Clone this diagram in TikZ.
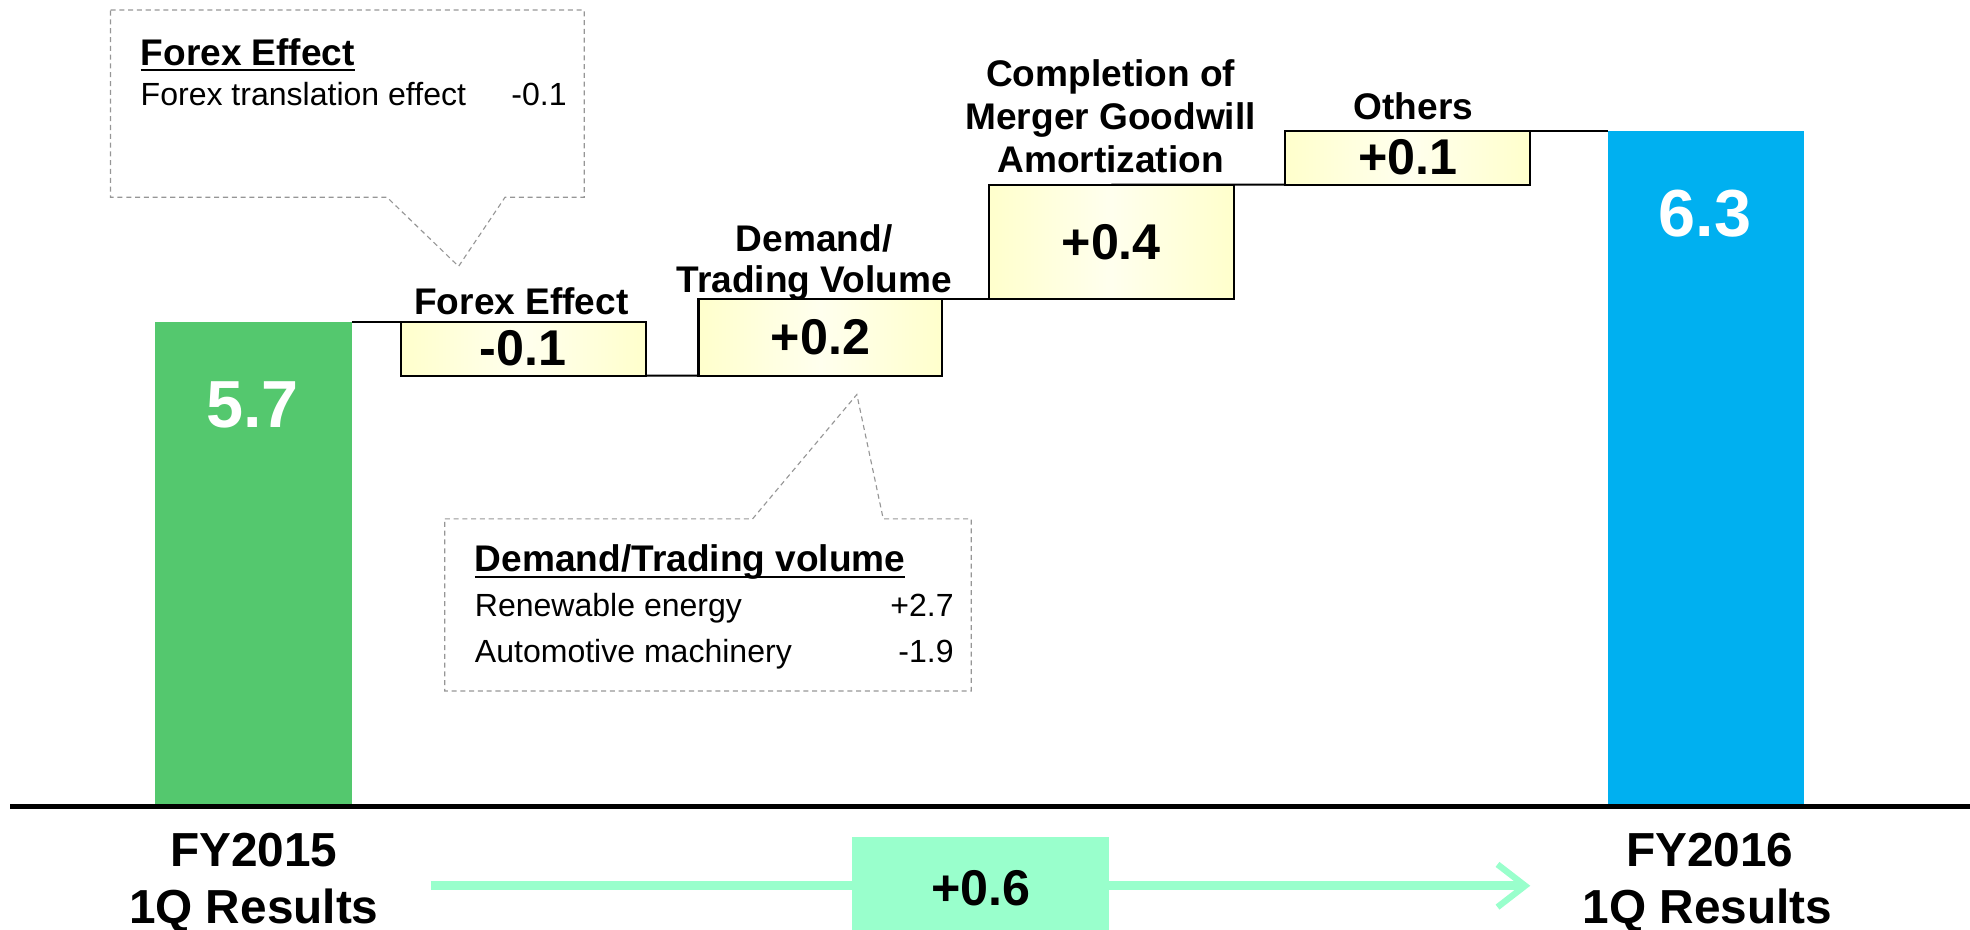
\documentclass[tikz,border=0pt]{standalone}
\usepackage{fontspec}
\setmainfont{Liberation Sans}
\usetikzlibrary{arrows.meta,backgrounds}
\definecolor{barGreen}{RGB}{84,200,110}
\definecolor{barBlue}{RGB}{0,176,240}
\definecolor{mintC}{RGB}{153,255,204}
\definecolor{boxYel}{RGB}{255,255,204}
\definecolor{boxYelLight}{RGB}{255,255,238}
\definecolor{calloutGray}{RGB}{150,150,150}
\newcommand\fLbl{\fontsize{29.5bp}{34bp}\selectfont\bfseries}
\newcommand\fVal{\fontsize{40bp}{46bp}\selectfont\bfseries}
\newcommand\fBig{\fontsize{53bp}{60bp}\selectfont\bfseries}
\newcommand\fAxis{\fontsize{38bp}{44bp}\selectfont\bfseries}
\newcommand\fBody{\fontsize{25.5bp}{30bp}\selectfont}
\begin{document}
\begin{tikzpicture}[x=1bp,y=-1bp,
  txt/.style={inner sep=0pt, outer sep=0pt},
  vbox/.style={draw=black, line width=1.8bp, left color=boxYel, right color=boxYel, middle color=boxYelLight,
    inner sep=0pt, outer sep=0pt, minimum width=195bp, anchor=north west, font=\fVal},
  bar/.style={inner sep=0pt, outer sep=0pt, anchor=north west},
  conn/.style={draw=black, line width=1.5bp},
  callout/.style={draw=calloutGray, line width=0.9bp, dash pattern=on 4bp off 3bp},
  uline/.style={draw=black, line width=1.8bp}]
\useasboundingbox (0,0) rectangle (1568,740);

% bars
\node[bar, fill=barGreen, minimum width=157bp, minimum height=386bp] (g) at (123,256) {};
\node[bar, fill=barBlue, minimum width=156bp, minimum height=538bp] (b) at (1280,104) {};
\node[txt, anchor=base, text=white, font=\fBig] (v57) at (201,340) {5.7};
\node[txt, anchor=base, text=white, font=\fBig] (v63) at (1357,188) {6.3};

% step boxes
\node[vbox, minimum height=43bp] (fx) at (319,256) {-0.1};
\node[vbox, minimum height=61bp, minimum width=194bp] (dm) at (556,238) {+0.2};
\node[vbox, minimum height=91bp] (gw) at (787,147) {+0.4};
\node[vbox, minimum height=43bp] (ot) at (1023,104) {+0.1};

% connectors
\begin{pgfonlayer}{background}
\draw[conn] (g.north east) -- (fx.north);
\draw[conn] (fx.south) -- (dm.south);
\draw[conn] (dm.north) -- (gw.south);
\draw[conn] (gw.north) -- (ot.south);
\draw[conn] (ot.north) -- (b.north west);
\end{pgfonlayer}

% labels above boxes
\node[txt, anchor=base, font=\fLbl] (lfx) at (415,250) {Forex Effect};
\node[txt, anchor=base, font=\fLbl] (ldm1) at (648,200) {Demand/};
\node[txt, anchor=base, font=\fLbl] (ldm2) at (648,233) {Trading Volume};
\node[txt, anchor=base, font=\fLbl] (lgw1) at (884,69) {Completion of};
\node[txt, anchor=base, font=\fLbl] (lgw2) at (884,103) {Merger Goodwill};
\node[txt, anchor=base, font=\fLbl] (lgw3) at (884,137) {Amortization};
\node[txt, anchor=base, font=\fLbl] (lot) at (1125,95) {Others};

% callout 1
\draw[callout] (88,8) -- (465,8) -- (465,157) -- (402,157) -- (365,212) -- (308,157) -- (88,157) -- cycle;
\node[txt, anchor=base west, font=\fLbl] (h1) at (112,52) {Forex Effect};
\draw[uline] ([yshift=-4bp]h1.base west) -- ([yshift=-4bp]h1.base east);
\node[txt, anchor=base west, font=\fBody] (r1) at (112,84) {Forex translation effect};
\node[txt, anchor=base east, font=\fBody] (r1v) at (451,84) {-0.1};

% callout 2
\draw[callout] (354,413) -- (599,413) -- (682,314) -- (703,413) -- (773,413) -- (773,550) -- (354,550) -- cycle;
\node[txt, anchor=base west, font=\fLbl] (h2) at (378,455) {Demand/Trading volume};
\draw[uline] ([yshift=-4bp]h2.base west) -- ([yshift=-4bp]h2.base east);
\node[txt, anchor=base west, font=\fBody] (r2) at (378,491) {Renewable energy};
\node[txt, anchor=base east, font=\fBody] (r2v) at (759,491) {+2.7};
\node[txt, anchor=base west, font=\fBody] (r3) at (378,527) {Automotive machinery};
\node[txt, anchor=base east, font=\fBody] (r3v) at (759,527) {-1.9};

% axis
\draw[line width=4.5bp] (8,642) -- (1568,642);

% bottom labels
\node[txt, anchor=base, font=\fAxis] (fy15) at (202,690) {FY2015};
\node[txt, anchor=base, font=\fAxis] (q15) at (202,735) {1Q Results};
\node[txt, anchor=base, font=\fAxis] (fy16) at (1361,690) {FY2016};
\node[txt, anchor=base, font=\fAxis] (q16) at (1359,735) {1Q Results};

% total arrow
\coordinate (as) at (343,705);
\coordinate (ae) at (1218,705);
\draw[draw=mintC, line width=7bp, -{Straight Barb[length=22bp, width=34bp, line width=5bp]}] (as) -- (ae);
\node[fill=mintC, inner sep=0pt, outer sep=0pt, minimum width=205bp, minimum height=82bp, anchor=north west, font=\fVal] (pm) at (678,666) {+0.6};
\end{tikzpicture}
\end{document}
